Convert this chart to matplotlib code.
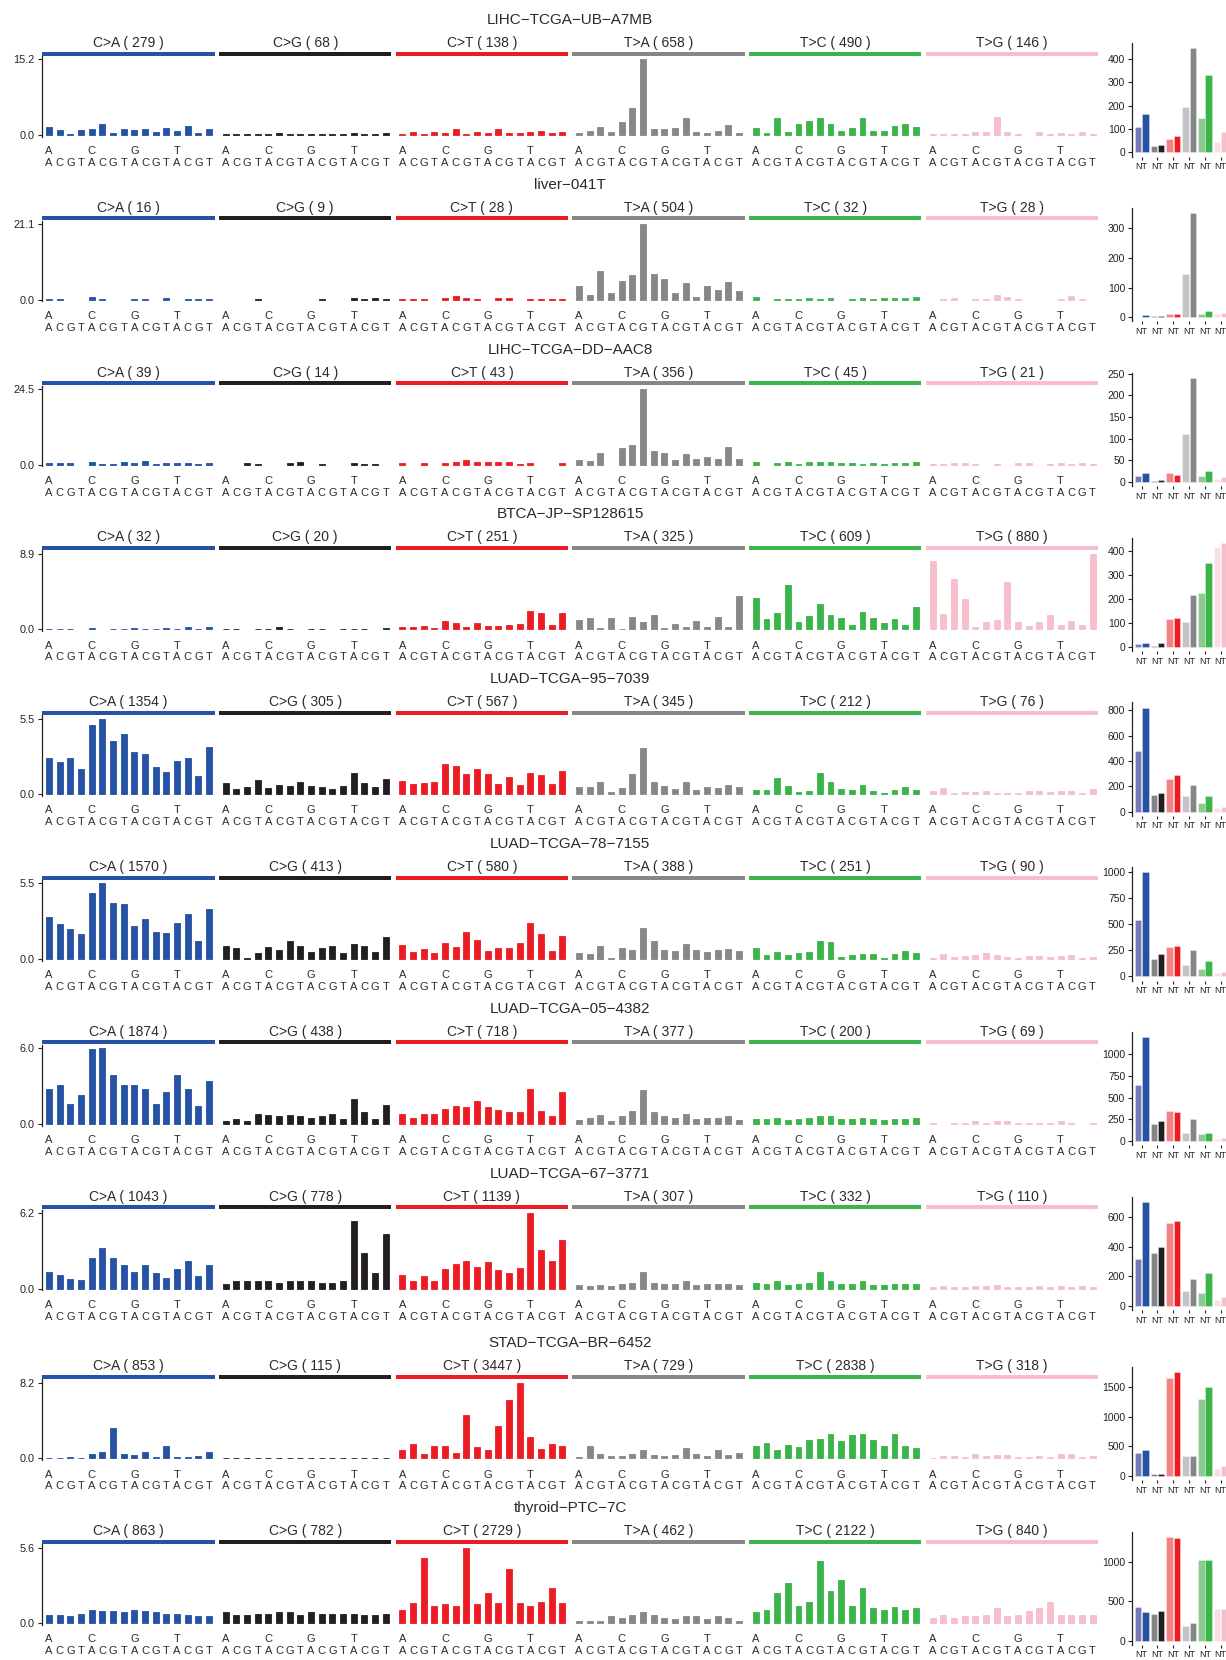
import numpy as np
import matplotlib
matplotlib.use("Agg")
import matplotlib.pyplot as plt
from matplotlib.patches import Rectangle
from matplotlib.transforms import blended_transform_factory

plt.rcParams["font.family"] = ["Liberation Sans", "DejaVu Sans"]

# ---------------------------------------------------------------- data
samples = ["LIHC\u2212TCGA\u2212UB\u2212A7MB", "liver\u2212041T", "LIHC\u2212TCGA\u2212DD\u2212AAC8",
           "BTCA\u2212JP\u2212SP128615", "LUAD\u2212TCGA\u221295\u22127039", "LUAD\u2212TCGA\u221278\u22127155",
           "LUAD\u2212TCGA\u221205\u22124382", "LUAD\u2212TCGA\u221267\u22123771", "STAD\u2212TCGA\u2212BR\u22126452",
           "thyroid\u2212PTC\u22127C"]
classes = ["C>A", "C>G", "C>T", "T>A", "T>C", "T>G"]
bases = ["A", "C", "G", "T"]

# mutation counts per substitution class
totals_lihc_a7mb = [279, 68, 138, 658, 490, 146]
totals_liver_041t = [16, 9, 28, 504, 32, 28]
totals_lihc_aac8 = [39, 14, 43, 356, 45, 21]
totals_btca = [32, 20, 251, 325, 609, 880]
totals_luad_7039 = [1354, 305, 567, 345, 212, 76]
totals_luad_7155 = [1570, 413, 580, 388, 251, 90]
totals_luad_4382 = [1874, 438, 718, 377, 200, 69]
totals_luad_3771 = [1043, 778, 1139, 307, 332, 110]
totals_stad_6452 = [853, 115, 3447, 729, 2838, 318]
totals_thyroid_7c = [863, 782, 2729, 462, 2122, 840]

# 96-channel spectra (% of mutations), 16 trinucleotide contexts per class
spec_lihc_a7mb = [
    1.59, 1.00, 0.20, 1.00, 1.19, 2.19, 0.40, 1.19, 1.00, 1.19, 0.60, 1.39, 0.80, 1.79, 0.40, 1.19,
    0.17, 0.28, 0.11, 0.11, 0.28, 0.45, 0.28, 0.28, 0.28, 0.11, 0.11, 0.28, 0.45, 0.28, 0.11, 0.45,
    0.17, 0.56, 0.17, 0.56, 0.34, 1.12, 0.17, 0.67, 0.34, 1.12, 0.34, 0.34, 0.56, 0.73, 0.34, 0.56,
    0.40, 0.80, 1.60, 0.60, 2.59, 5.37, 15.20, 1.19, 1.19, 1.39, 3.38, 0.60, 0.40, 0.80, 1.99, 0.40,
    1.39, 0.40, 3.38, 0.60, 2.19, 2.79, 3.38, 2.19, 0.80, 1.39, 3.38, 0.80, 0.80, 1.79, 2.19, 1.59,
    0.11, 0.11, 0.28, 0.11, 0.67, 0.51, 3.53, 0.56, 0.11, 0.00, 0.67, 0.17, 0.34, 0.17, 0.67, 0.17]
spec_liver_041t = [
    0.16, 0.16, 0.00, 0.00, 0.81, 0.16, 0.00, 0.00, 0.16, 0.16, 0.00, 0.49, 0.00, 0.16, 0.16, 0.16,
    0.00, 0.00, 0.00, 0.16, 0.00, 0.00, 0.00, 0.00, 0.00, 0.16, 0.00, 0.00, 0.49, 0.16, 0.49, 0.32,
    0.16, 0.16, 0.32, 0.00, 0.49, 0.97, 0.65, 0.16, 0.00, 0.49, 0.65, 0.00, 0.16, 0.32, 0.16, 0.16,
    3.87, 1.38, 8.00, 1.94, 5.25, 6.90, 21.10, 7.20, 5.80, 1.94, 4.70, 0.83, 3.87, 2.76, 4.98, 2.49,
    0.81, 0.00, 0.32, 0.16, 0.32, 0.49, 0.32, 0.49, 0.00, 0.16, 0.49, 0.16, 0.49, 0.49, 0.49, 0.81,
    0.00, 0.16, 0.49, 0.00, 0.32, 0.32, 1.30, 0.81, 0.32, 0.00, 0.00, 0.00, 0.16, 1.00, 0.16, 0.00]
spec_lihc_aac8 = [
    0.58, 0.39, 0.58, 0.00, 0.97, 0.19, 0.19, 0.77, 0.58, 1.16, 0.19, 0.58, 0.58, 0.39, 0.19, 0.58,
    0.00, 0.00, 0.39, 0.19, 0.00, 0.00, 0.39, 0.77, 0.00, 0.19, 0.00, 0.00, 0.58, 0.19, 0.19, 0.00,
    0.39, 0.00, 0.39, 0.00, 0.39, 0.97, 1.35, 0.97, 0.97, 0.97, 0.97, 0.19, 0.39, 0.00, 0.00, 0.39,
    1.60, 1.28, 3.85, 0.00, 5.45, 6.40, 24.50, 4.50, 3.85, 1.60, 3.50, 1.90, 2.57, 1.90, 5.80, 1.90,
    0.77, 0.00, 0.39, 0.77, 0.19, 0.77, 0.77, 0.77, 0.58, 0.39, 0.19, 0.58, 0.19, 0.39, 0.58, 0.97,
    0.19, 0.19, 0.39, 0.39, 0.19, 0.00, 0.19, 0.00, 0.39, 0.39, 0.00, 0.19, 0.39, 0.19, 0.39, 0.19]
spec_btca = [
    0.05, 0.10, 0.05, 0.00, 0.14, 0.00, 0.05, 0.10, 0.19, 0.10, 0.05, 0.14, 0.05, 0.24, 0.05, 0.28,
    0.05, 0.10, 0.00, 0.05, 0.05, 0.24, 0.10, 0.00, 0.05, 0.05, 0.00, 0.05, 0.10, 0.05, 0.00, 0.14,
    0.28, 0.28, 0.39, 0.14, 1.00, 0.75, 0.28, 0.75, 0.39, 0.39, 0.51, 0.63, 2.16, 1.92, 0.51, 1.92,
    1.10, 1.33, 0.16, 1.33, 0.05, 1.45, 0.86, 1.69, 0.16, 0.63, 0.28, 0.98, 0.28, 1.45, 0.28, 3.92,
    3.69, 1.22, 1.92, 5.22, 0.86, 1.57, 2.98, 1.69, 1.33, 0.51, 2.04, 1.33, 0.75, 1.22, 0.51, 2.63,
    8.04, 1.80, 5.92, 3.57, 0.28, 0.86, 1.10, 5.57, 0.86, 0.39, 0.86, 1.69, 0.51, 0.98, 0.51, 8.90]
spec_luad_7039 = [
    2.60, 2.31, 2.60, 1.81, 5.06, 5.50, 3.90, 4.34, 3.04, 2.89, 1.95, 1.59, 2.39, 2.60, 1.30, 3.40,
    0.80, 0.36, 0.51, 1.01, 0.43, 0.65, 0.58, 0.87, 0.58, 0.51, 0.36, 0.58, 1.52, 0.80, 0.51, 1.08,
    0.94, 0.72, 0.80, 0.87, 2.17, 2.02, 1.45, 1.81, 1.45, 0.72, 1.23, 0.65, 1.52, 1.37, 0.72, 1.66,
    0.51, 0.51, 0.87, 0.14, 0.43, 1.45, 3.33, 0.87, 0.58, 0.36, 0.87, 0.29, 0.51, 0.43, 0.65, 0.51,
    0.29, 0.29, 1.16, 0.58, 0.14, 0.22, 1.52, 0.87, 0.36, 0.29, 0.65, 0.22, 0.07, 0.29, 0.51, 0.29,
    0.22, 0.43, 0.07, 0.14, 0.14, 0.22, 0.07, 0.07, 0.07, 0.22, 0.22, 0.14, 0.22, 0.22, 0.07, 0.36]
spec_luad_7155 = [
    3.03, 2.52, 2.16, 1.80, 4.83, 5.50, 4.04, 3.97, 2.38, 2.88, 1.95, 1.88, 2.60, 3.25, 1.30, 3.61,
    0.94, 0.79, 0.07, 0.43, 0.87, 0.65, 1.30, 0.94, 0.50, 0.79, 0.94, 0.43, 1.08, 0.94, 0.50, 1.59,
    1.01, 0.50, 0.72, 0.43, 1.15, 0.87, 1.95, 1.37, 0.58, 0.79, 0.79, 1.15, 2.60, 1.80, 0.58, 1.66,
    0.43, 0.36, 0.94, 0.07, 0.79, 0.65, 2.24, 1.30, 0.65, 0.58, 1.08, 0.65, 0.50, 0.65, 0.72, 0.58,
    0.79, 0.29, 0.50, 0.29, 0.43, 0.50, 1.30, 1.23, 0.14, 0.29, 0.36, 0.36, 0.07, 0.36, 0.58, 0.43,
    0.07, 0.36, 0.14, 0.22, 0.29, 0.43, 0.29, 0.14, 0.07, 0.22, 0.22, 0.14, 0.22, 0.29, 0.07, 0.14]
spec_luad_4382 = [
    2.80, 3.10, 1.60, 2.30, 5.90, 6.00, 3.90, 3.10, 3.10, 2.80, 1.60, 2.50, 3.90, 2.80, 1.40, 3.40,
    0.20, 0.40, 0.20, 0.80, 0.70, 0.60, 0.70, 0.60, 0.50, 0.60, 0.80, 0.40, 2.00, 0.90, 0.40, 1.50,
    0.80, 0.50, 0.80, 0.80, 1.20, 1.40, 1.30, 1.80, 1.30, 1.10, 0.90, 0.90, 2.80, 1.00, 0.60, 2.50,
    0.30, 0.50, 0.70, 0.20, 0.60, 1.00, 2.70, 0.90, 0.60, 0.50, 0.80, 0.40, 0.50, 0.50, 0.60, 0.30,
    0.40, 0.40, 0.50, 0.30, 0.40, 0.50, 0.60, 0.60, 0.40, 0.40, 0.50, 0.40, 0.30, 0.40, 0.40, 0.50,
    0.10, 0.00, 0.10, 0.10, 0.20, 0.10, 0.20, 0.20, 0.10, 0.10, 0.10, 0.10, 0.20, 0.10, 0.00, 0.10]
spec_luad_3771 = [
    1.40, 1.10, 0.80, 0.70, 2.50, 3.30, 2.50, 1.90, 1.40, 1.90, 1.30, 0.90, 1.60, 2.30, 1.00, 1.90,
    0.40, 0.60, 0.60, 0.60, 0.60, 0.50, 0.60, 0.60, 0.60, 0.50, 0.50, 0.60, 5.50, 2.90, 1.30, 4.50,
    1.10, 0.60, 1.00, 0.60, 1.60, 2.00, 2.30, 1.80, 2.20, 1.50, 1.30, 1.70, 6.20, 3.20, 2.30, 4.00,
    0.30, 0.20, 0.30, 0.20, 0.40, 0.50, 1.40, 0.50, 0.40, 0.40, 0.60, 0.30, 0.40, 0.40, 0.40, 0.30,
    0.50, 0.40, 0.60, 0.30, 0.40, 0.50, 1.40, 0.60, 0.40, 0.40, 0.60, 0.30, 0.30, 0.40, 0.40, 0.40,
    0.10, 0.20, 0.10, 0.10, 0.20, 0.20, 0.30, 0.10, 0.10, 0.10, 0.20, 0.10, 0.20, 0.10, 0.20, 0.10]
spec_stad_6452 = [
    0.10, 0.10, 0.20, 0.10, 0.50, 0.70, 3.30, 0.50, 0.40, 0.70, 0.20, 1.40, 0.20, 0.20, 0.30, 0.70,
    0.05, 0.05, 0.05, 0.10, 0.10, 0.05, 0.10, 0.05, 0.10, 0.10, 0.05, 0.10, 0.10, 0.05, 0.10, 0.10,
    0.90, 1.60, 0.50, 1.30, 1.40, 0.60, 4.70, 1.20, 0.90, 3.50, 6.30, 8.20, 2.30, 1.00, 1.60, 1.30,
    0.20, 1.40, 0.50, 0.30, 0.30, 0.50, 0.90, 0.40, 0.30, 0.40, 1.10, 0.50, 0.30, 0.90, 0.40, 0.60,
    1.30, 1.70, 0.90, 1.50, 1.20, 2.00, 2.10, 2.60, 1.90, 2.50, 2.60, 2.00, 1.40, 2.60, 1.30, 1.10,
    0.10, 0.30, 0.30, 0.20, 0.50, 0.30, 0.40, 0.40, 0.20, 0.20, 0.30, 0.20, 0.50, 0.50, 0.20, 0.30]
spec_thyroid_7c = [
    0.60, 0.60, 0.50, 0.70, 1.00, 0.90, 0.90, 0.80, 1.00, 0.90, 0.80, 0.70, 0.70, 0.60, 0.50, 0.50,
    0.80, 0.60, 0.60, 0.70, 0.70, 0.80, 0.80, 0.60, 0.80, 0.70, 0.70, 0.70, 0.70, 0.60, 0.60, 0.70,
    1.00, 1.50, 4.80, 1.30, 1.40, 1.30, 5.60, 1.40, 2.20, 1.50, 4.00, 1.50, 1.30, 1.60, 2.60, 1.50,
    0.20, 0.20, 0.20, 0.50, 0.40, 0.60, 0.80, 0.60, 0.40, 0.30, 0.50, 0.50, 0.30, 0.50, 0.40, 0.20,
    0.80, 1.00, 2.20, 3.00, 1.30, 1.60, 4.60, 2.40, 3.20, 1.30, 2.60, 1.10, 1.00, 1.20, 1.00, 1.10,
    0.40, 0.60, 0.40, 0.50, 0.50, 0.60, 1.10, 0.50, 0.60, 0.90, 1.10, 1.60, 0.60, 0.60, 0.60, 0.60]

# transcriptional strand counts per class: (N, T) pairs
strand_lihc_a7mb = [107, 165, 28, 33, 58, 70, 193, 443, 148, 328, 45, 88]
strand_liver_041t = [2, 8, 3, 3, 10, 12, 145, 350, 12, 20, 10, 14]
strand_lihc_aac8 = [15, 20, 3, 5, 20, 17, 110, 240, 14, 25, 8, 12]
strand_btca = [10, 18, 2, 14, 118, 121, 103, 214, 225, 350, 416, 433]
strand_luad_7039 = [480, 820, 130, 145, 260, 290, 120, 210, 70, 125, 25, 40]
strand_luad_7155 = [540, 1000, 170, 220, 280, 290, 110, 250, 70, 150, 30, 40]
strand_luad_4382 = [640, 1190, 200, 230, 350, 340, 100, 250, 80, 100, 20, 40]
strand_luad_3771 = [320, 700, 360, 400, 560, 570, 100, 180, 90, 220, 40, 60]
strand_stad_6452 = [380, 440, 30, 30, 1650, 1760, 330, 330, 1300, 1500, 120, 160]
strand_thyroid_7c = [430, 370, 340, 380, 1320, 1300, 180, 220, 1030, 1030, 400, 400]
strand_steps = [100, 100, 50, 100, 200, 250, 250, 200, 500, 500]

class_totals = [totals_lihc_a7mb, totals_liver_041t, totals_lihc_aac8, totals_btca,
                totals_luad_7039, totals_luad_7155, totals_luad_4382, totals_luad_3771,
                totals_stad_6452, totals_thyroid_7c]
spectra = [spec_lihc_a7mb, spec_liver_041t, spec_lihc_aac8, spec_btca, spec_luad_7039,
           spec_luad_7155, spec_luad_4382, spec_luad_3771, spec_stad_6452, spec_thyroid_7c]
strands = [strand_lihc_a7mb, strand_liver_041t, strand_lihc_aac8, strand_btca, strand_luad_7039,
           strand_luad_7155, strand_luad_4382, strand_luad_3771, strand_stad_6452, strand_thyroid_7c]

# ---------------------------------------------------------------- style
main_colors = ["#2552a4", "#231f20", "#ec1c24", "#878789", "#3bb44a", "#f6bfcb"]
light_colors = ["#7678b8", "#858585", "#f28283", "#c4c4c6", "#8dca8f", "#fbdde4"]
txt = "#2a2a2a"

W, H = 1226, 1660
fig = plt.figure(figsize=(W / 100, H / 100), dpi=100)


def add_axes_px(left, top, width, height):
    return fig.add_axes([left / W, 1 - (top + height) / H, width / W, height / H])


panel_left, panel_step, panel_w = 42.3, 176.7, 172.4
x = np.arange(16)

for r in range(len(samples)):
    dy = r * 164.8 + (5 if r >= 8 else 0)
    vals = np.array(spectra[r])
    ymax = vals.max()
    fig.text(570 / W, 1 - (20 + dy) / H, samples[r], ha="center", va="center",
             fontsize=11, color=txt)

    for k in range(6):
        ax = add_axes_px(panel_left + k * panel_step, 56 + dy, panel_w, 80.7)
        v = vals[16 * k:16 * (k + 1)]
        edges = [main_colors[k] if h > 0 else "none" for h in v]
        ax.bar(x, v, width=0.56, color=main_colors[k], edgecolor=edges, linewidth=0.6)
        ax.set_xlim(-0.63, 15.53)
        ax.set_ylim(-0.022 * ymax, 1.044 * ymax)
        for s in ["top", "right", "bottom"]:
            ax.spines[s].set_visible(False)
        ax.set_xticks([])
        if k == 0:
            ax.spines["left"].set_color("#222222")
            ax.spines["left"].set_linewidth(0.9)
            ax.set_yticks([0, ymax])
            ax.set_yticklabels(["0.0", "%.1f" % ymax])
            ax.tick_params(axis="y", length=2.9, width=0.8, pad=2.5, labelsize=7.8,
                           colors="#222222")
        else:
            ax.spines["left"].set_visible(False)
            ax.set_yticks([])
        # coloured class strip with its label
        ax.add_patch(Rectangle((0, 1.004), 1, 0.05, transform=ax.transAxes,
                               color=main_colors[k], clip_on=False, lw=0))
        ax.text(0.5, 1.16, "%s ( %d )" % (classes[k], class_totals[r][k]),
                transform=ax.transAxes, ha="center", va="center", fontsize=10, color=txt)
        # context labels: 5' base on top row, 3' base below
        tr = blended_transform_factory(ax.transData, ax.transAxes)
        for i in range(16):
            if i % 4 == 0:
                ax.text(i, -0.18, bases[i // 4], transform=tr, ha="center", va="center",
                        fontsize=8, color=txt)
            ax.text(i, -0.325, bases[i % 4], transform=tr, ha="center", va="center",
                    fontsize=8, color=txt)

    # transcriptional strand bias panel
    sv = np.array(strands[r], dtype=float)
    m = sv.max()
    sax = add_axes_px(1132, 43.3 + dy, W - 1132, 113.3)
    pos = np.arange(6)
    sax.bar(pos - 0.225, sv[0::2], width=0.41, color=light_colors,
            edgecolor=(1, 1, 1, 0.45), linewidth=0.5)
    sax.bar(pos + 0.235, sv[1::2], width=0.41, color=main_colors,
            edgecolor=(1, 1, 1, 0.45), linewidth=0.5)
    sax.set_xlim(-0.61, 5.34)
    sax.set_ylim(-0.04 * m, 1.05 * m)
    for s in ["top", "right", "bottom"]:
        sax.spines[s].set_visible(False)
    sax.spines["left"].set_color("#222222")
    sax.spines["left"].set_linewidth(0.9)
    sax.set_yticks(np.arange(0, m * 1.05, strand_steps[r]))
    sax.set_yticklabels(["%d" % t for t in np.arange(0, m * 1.05, strand_steps[r])])
    sax.set_xticks(pos)
    sax.set_xticklabels(["NT"] * 6)
    sax.tick_params(axis="y", length=2.9, width=0.8, pad=2, labelsize=7.5, colors="#222222")
    sax.tick_params(axis="x", length=2.5, width=0.8, pad=1.5, labelsize=6.5, colors="#222222")

fig.savefig("out.png", dpi=100)
